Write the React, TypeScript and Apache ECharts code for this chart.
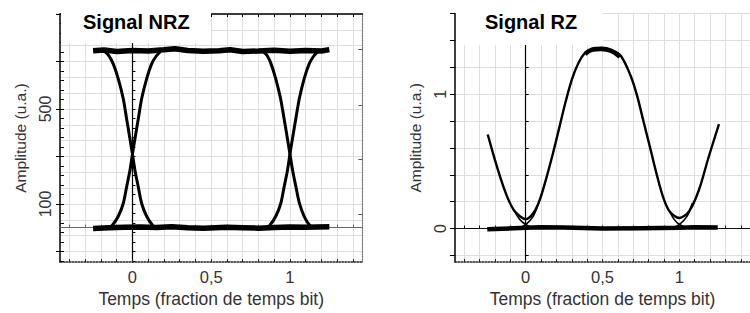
import React, { useEffect, useRef } from "react";
import * as echarts from "echarts";

const FONT = "Liberation Sans";

const nrzTitle = "Signal NRZ";
const rzTitle = "Signal RZ";
const xAxisName = "Temps (fraction de temps bit)";
const yAxisName = "Amplitude (u.a.)";

// tick / label values
const xLabelValues = [0, 0.5, 1];
const xTickValues = [-0.4, -0.3, -0.2, -0.1, 0, 0.1, 0.2, 0.3, 0.4, 0.5, 0.6, 0.7, 0.8, 0.9, 1, 1.1, 1.2, 1.3, 1.4];

const nrzYLabelValues = [100, 500];
const nrzYMinorTicks = [-140, -100, -60, -20, 20, 60, 100, 140, 180, 220, 260, 300, 340, 380, 420, 460, 500, 540, 580, 620, 660, 700, 740, 780, 820, 860, 900];
const nrzYMajorTicks = [-100, 100, 300, 500, 700, 900];
const nrzYGridLines = [-100, -33.3, 33.3, 100, 166.7, 233.3, 300, 366.7, 433.3, 500, 566.7, 633.3, 700, 766.7, 833.3, 900];
const nrzRightTicks = [57, 288, 516, 752];

const rzYLabelValues = [0, 1];
const rzYTickValues = [-0.2, 0, 0.2, 0.4, 0.6, 0.8, 1, 1.2, 1.4, 1.6];

// NRZ eye diagram traces [time, amplitude]
const nrzHigh = [[-0.25, 745], [-0.18, 748], [-0.1, 742], [0, 746], [0.1, 744], [0.2, 749], [0.27, 754], [0.35, 746], [0.45, 743], [0.55, 745], [0.62, 749], [0.7, 742], [0.8, 744], [0.9, 747], [1.0, 743], [1.1, 746], [1.2, 744], [1.25, 750]];
const nrzLow = [[-0.25, -3], [-0.15, 0], [-0.05, 2], [0.05, 3], [0.15, 1], [0.25, 4], [0.35, 0], [0.45, -2], [0.6, 2], [0.7, 0], [0.8, -2], [0.9, 1], [1.0, 3], [1.1, 2], [1.25, 4]];
const nrzFall0 = [[-0.175, 742], [-0.15, 725], [-0.122, 690], [-0.09, 627], [-0.059, 545], [-0.038, 462], [-0.017, 379], [0, 310], [0.016, 241], [0.037, 172], [0.058, 103], [0.09, 48], [0.13, 8], [0.15, 0]];
const nrzRise0 = [[-0.15, 0], [-0.13, 8], [-0.09, 48], [-0.058, 103], [-0.037, 172], [-0.016, 241], [0, 310], [0.017, 379], [0.038, 462], [0.059, 545], [0.09, 627], [0.122, 690], [0.15, 722], [0.175, 740]];
const nrzFall1 = [[0.83, 742], [0.855, 725], [0.88, 690], [0.91, 627], [0.94, 545], [0.962, 462], [0.983, 379], [1.0, 310], [1.017, 241], [1.038, 172], [1.06, 103], [1.09, 48], [1.125, 10], [1.15, 0]];
const nrzRise1 = [[0.85, 0], [0.87, 8], [0.91, 48], [0.942, 103], [0.963, 172], [0.984, 241], [1.0, 310], [1.017, 379], [1.038, 462], [1.06, 545], [1.09, 627], [1.122, 690], [1.15, 722], [1.175, 740]];

// RZ eye diagram traces [time, amplitude]
const rzPulse = [[-0.247, 0.70], [-0.205, 0.53], [-0.162, 0.37], [-0.12, 0.236], [-0.078, 0.139], [-0.036, 0.09], [0, 0.07], [0.049, 0.114], [0.091, 0.212], [0.133, 0.37], [0.176, 0.553], [0.218, 0.748], [0.26, 0.944], [0.302, 1.114], [0.345, 1.236], [0.387, 1.31], [0.43, 1.34], [0.493, 1.346], [0.556, 1.333], [0.62, 1.285], [0.683, 1.138], [0.725, 0.99], [0.767, 0.797], [0.81, 0.602], [0.852, 0.407], [0.894, 0.236], [0.937, 0.127], [1.0, 0.078], [1.063, 0.127], [1.127, 0.285], [1.19, 0.529], [1.258, 0.778]];
const rzPeak = [[0.39, 1.295], [0.43, 1.325], [0.49, 1.332], [0.556, 1.318], [0.61, 1.275]];
const rzTail0 = [[-0.078, 0.139], [-0.04, 0.07], [0, 0.03], [0.04, 0.008], [0.07, 0]];
const rzRise0 = [[-0.07, 0], [-0.04, 0.008], [0, 0.03], [0.049, 0.09], [0.091, 0.212]];
const rzTail1 = [[0.937, 0.127], [0.965, 0.07], [1.0, 0.03], [1.04, 0.008], [1.07, 0]];
const rzRise1 = [[0.93, 0], [0.96, 0.008], [1.0, 0.03], [1.05, 0.09], [1.085, 0.19]];
const rzZero = [[-0.25, -0.005], [0, 0.005], [0.1, 0.01], [0.25, 0.008], [0.5, 0], [0.75, 0.003], [1.0, 0.005], [1.1, 0.01], [1.25, 0.008]];

const gridColor = "#dedede";
const textColor = "#333";

function fmtComma(v: number) {
  return String(v).replace(".", ",");
}

function buildOption() {
  const hiddenY = (gridIndex: number, min: number, max: number, grid: number[]) => ({
    type: "value", gridIndex, min, max, position: "left",
    axisLine: { show: false, onZero: false },
    axisTick: { show: false, customValues: grid },
    axisLabel: { show: false },
    splitLine: { show: true, lineStyle: { color: gridColor, width: 1 } },
  });

  const bottomX = (gridIndex: number) => ({
    type: "value", gridIndex, min: -0.46, max: 1.46, position: "bottom",
    name: xAxisName, nameLocation: "middle", nameGap: 26,
    nameTextStyle: { fontSize: 17.5, color: textColor, fontFamily: FONT },
    axisLine: { show: true, onZero: false, lineStyle: { color: "#222", type: "dotted", width: 1.5 } },
    axisTick: { show: true, inside: true, length: 3, customValues: xTickValues, lineStyle: { color: "#222" } },
    axisLabel: { show: true, customValues: xLabelValues, formatter: (v: number) => fmtComma(v), fontSize: 16.5, color: textColor, fontFamily: FONT, margin: 6 },
    splitLine: { show: true, lineStyle: { color: gridColor, width: 1 } },
  });

  const zeroX = (gridIndex: number, yIdx: number, color: string) => ({
    type: "value", gridIndex, min: -0.46, max: 1.46, position: "bottom",
    axisLine: { show: true, onZero: true, onZeroAxisIndex: yIdx, lineStyle: { color, width: 1.2 } },
    axisTick: { show: true, inside: true, length: 3, customValues: xTickValues, lineStyle: { color } },
    axisLabel: { show: false },
    splitLine: { show: false },
  });

  const zeroY = (gridIndex: number, xIdx: number, min: number, max: number, ticks: number[]) => ({
    type: "value", gridIndex, min, max, position: "left",
    axisLine: { show: true, onZero: true, onZeroAxisIndex: xIdx, lineStyle: { color: "#000", width: 1.2 } },
    axisTick: { show: true, inside: true, length: 3, customValues: ticks, lineStyle: { color: "#000" } },
    axisLabel: { show: false },
    splitLine: { show: false },
  });

  const xAxis = [
    bottomX(0), // 0
    { // 1 top border NRZ
      type: "value", gridIndex: 0, min: -0.46, max: 1.46, position: "top",
      axisLine: { show: true, onZero: false, lineStyle: { color: "#000", width: 1.5 } },
      axisTick: { show: true, inside: true, length: 3, customValues: xTickValues, lineStyle: { color: "#000" } },
      axisLabel: { show: false }, splitLine: { show: false },
    },
    zeroX(0, 0, "#666"), // 2
    bottomX(1), // 3
    zeroX(1, 5, "#111"), // 4
  ];

  const yAxis = [
    { // 0 NRZ left
      type: "value", gridIndex: 0, min: -145, max: 900, position: "left",
      name: yAxisName, nameLocation: "middle", nameGap: 32,
      nameTextStyle: { fontSize: 15.5, color: textColor, fontFamily: FONT },
      axisLine: { show: true, onZero: false, lineStyle: { color: "#000", width: 1.5 } },
      axisTick: { show: true, inside: true, length: 4, customValues: nrzYMinorTicks, lineStyle: { color: "#000" } },
      axisLabel: { show: true, customValues: nrzYLabelValues, rotate: 90, fontSize: 16, color: textColor, fontFamily: FONT, margin: 7 },
      splitLine: { show: false },
    },
    { // 1 NRZ major ticks outside
      type: "value", gridIndex: 0, min: -145, max: 900, position: "left",
      axisLine: { show: false, onZero: false },
      axisTick: { show: true, inside: false, length: 4, customValues: nrzYMajorTicks, lineStyle: { color: "#000" } },
      axisLabel: { show: false }, splitLine: { show: false },
    },
    hiddenY(0, -145, 900, nrzYGridLines), // 2
    zeroY(0, 0, -145, 900, nrzYMinorTicks), // 3
    { // 4 NRZ right border
      type: "value", gridIndex: 0, min: -145, max: 900, position: "right",
      axisLine: { show: true, onZero: false, lineStyle: { color: "#777", type: "dotted", width: 1.2 } },
      axisTick: { show: true, inside: true, length: 4, customValues: nrzRightTicks, lineStyle: { color: "#555" } },
      axisLabel: { show: false }, splitLine: { show: false },
    },
    { // 5 RZ left
      type: "value", gridIndex: 1, min: -0.25, max: 1.6, position: "left",
      name: yAxisName, nameLocation: "middle", nameGap: 32,
      nameTextStyle: { fontSize: 15.5, color: textColor, fontFamily: FONT },
      axisLine: { show: true, onZero: false, lineStyle: { color: "#000", width: 1.5 } },
      axisTick: { show: true, inside: false, length: 5, customValues: rzYTickValues, lineStyle: { color: "#000" } },
      axisLabel: { show: true, customValues: rzYLabelValues, rotate: 90, fontSize: 16, color: textColor, fontFamily: FONT, margin: 7 },
      splitLine: { show: true, lineStyle: { color: gridColor, width: 1 } },
    },
    zeroY(1, 3, -0.25, 1.6, rzYTickValues), // 6
  ];

  const line = (data: number[][], xIdx: number, yIdx: number, width: number, smooth: number | boolean) => ({
    type: "line", data, xAxisIndex: xIdx, yAxisIndex: yIdx, symbol: "none", showSymbol: false,
    smooth, silent: true, z: 5,
    lineStyle: { color: "#000", width, cap: "butt" },
  });

  const series = [
    line(nrzHigh, 0, 0, 5.5, false),
    line(nrzLow, 0, 0, 5.5, false),
    line(nrzFall0, 0, 0, 3, 0.3),
    line(nrzRise0, 0, 0, 3, 0.3),
    line(nrzFall1, 0, 0, 3, 0.3),
    line(nrzRise1, 0, 0, 3, 0.3),
    line(rzZero, 3, 5, 4.5, false),
    line(rzPulse, 3, 5, 2.4, 0.3),
    line(rzPeak, 3, 5, 3, 0.4),
    line(rzTail0, 3, 5, 1.6, 0.3),
    line(rzRise0, 3, 5, 1.6, 0.3),
    line(rzTail1, 3, 5, 1.6, 0.3),
    line(rzRise1, 3, 5, 1.6, 0.3),
  ];

  return {
    animation: false,
    backgroundColor: "#fff",
    textStyle: { fontFamily: FONT },
    grid: [
      { left: 60, top: 14, width: 302.4, height: 252.7, containLabel: false },
      { left: 455, top: 13.7, width: 302.4, height: 253, containLabel: false },
    ],
    xAxis,
    yAxis,
    series,
    graphic: [
      { type: "rect", z: 100, shape: { x: 61, y: 0, width: 150, height: 43 }, style: { fill: "#fff" } },
      { type: "text", z: 101, x: 83, y: 12, style: { text: nrzTitle, fill: "#000", font: `bold 20px "${FONT}"`, verticalAlign: "top", textVerticalAlign: "top" } },
      { type: "rect", z: 100, shape: { x: 456, y: 0, width: 147, height: 45 }, style: { fill: "#fff" } },
      { type: "text", z: 101, x: 485, y: 12, style: { text: rzTitle, fill: "#000", font: `bold 20px "${FONT}"`, verticalAlign: "top", textVerticalAlign: "top" } },
    ],
  };
}

export default function App() {
  const ref = useRef<HTMLDivElement>(null);
  useEffect(() => {
    if (!ref.current) return;
    const chart = echarts.init(ref.current, undefined, { renderer: "svg" });
    chart.setOption(buildOption() as any);
    return () => chart.dispose();
  }, []);
  return <div ref={ref} style={{ position: "absolute", left: 0, top: 0, width: 750, height: 313 }} />;
}
